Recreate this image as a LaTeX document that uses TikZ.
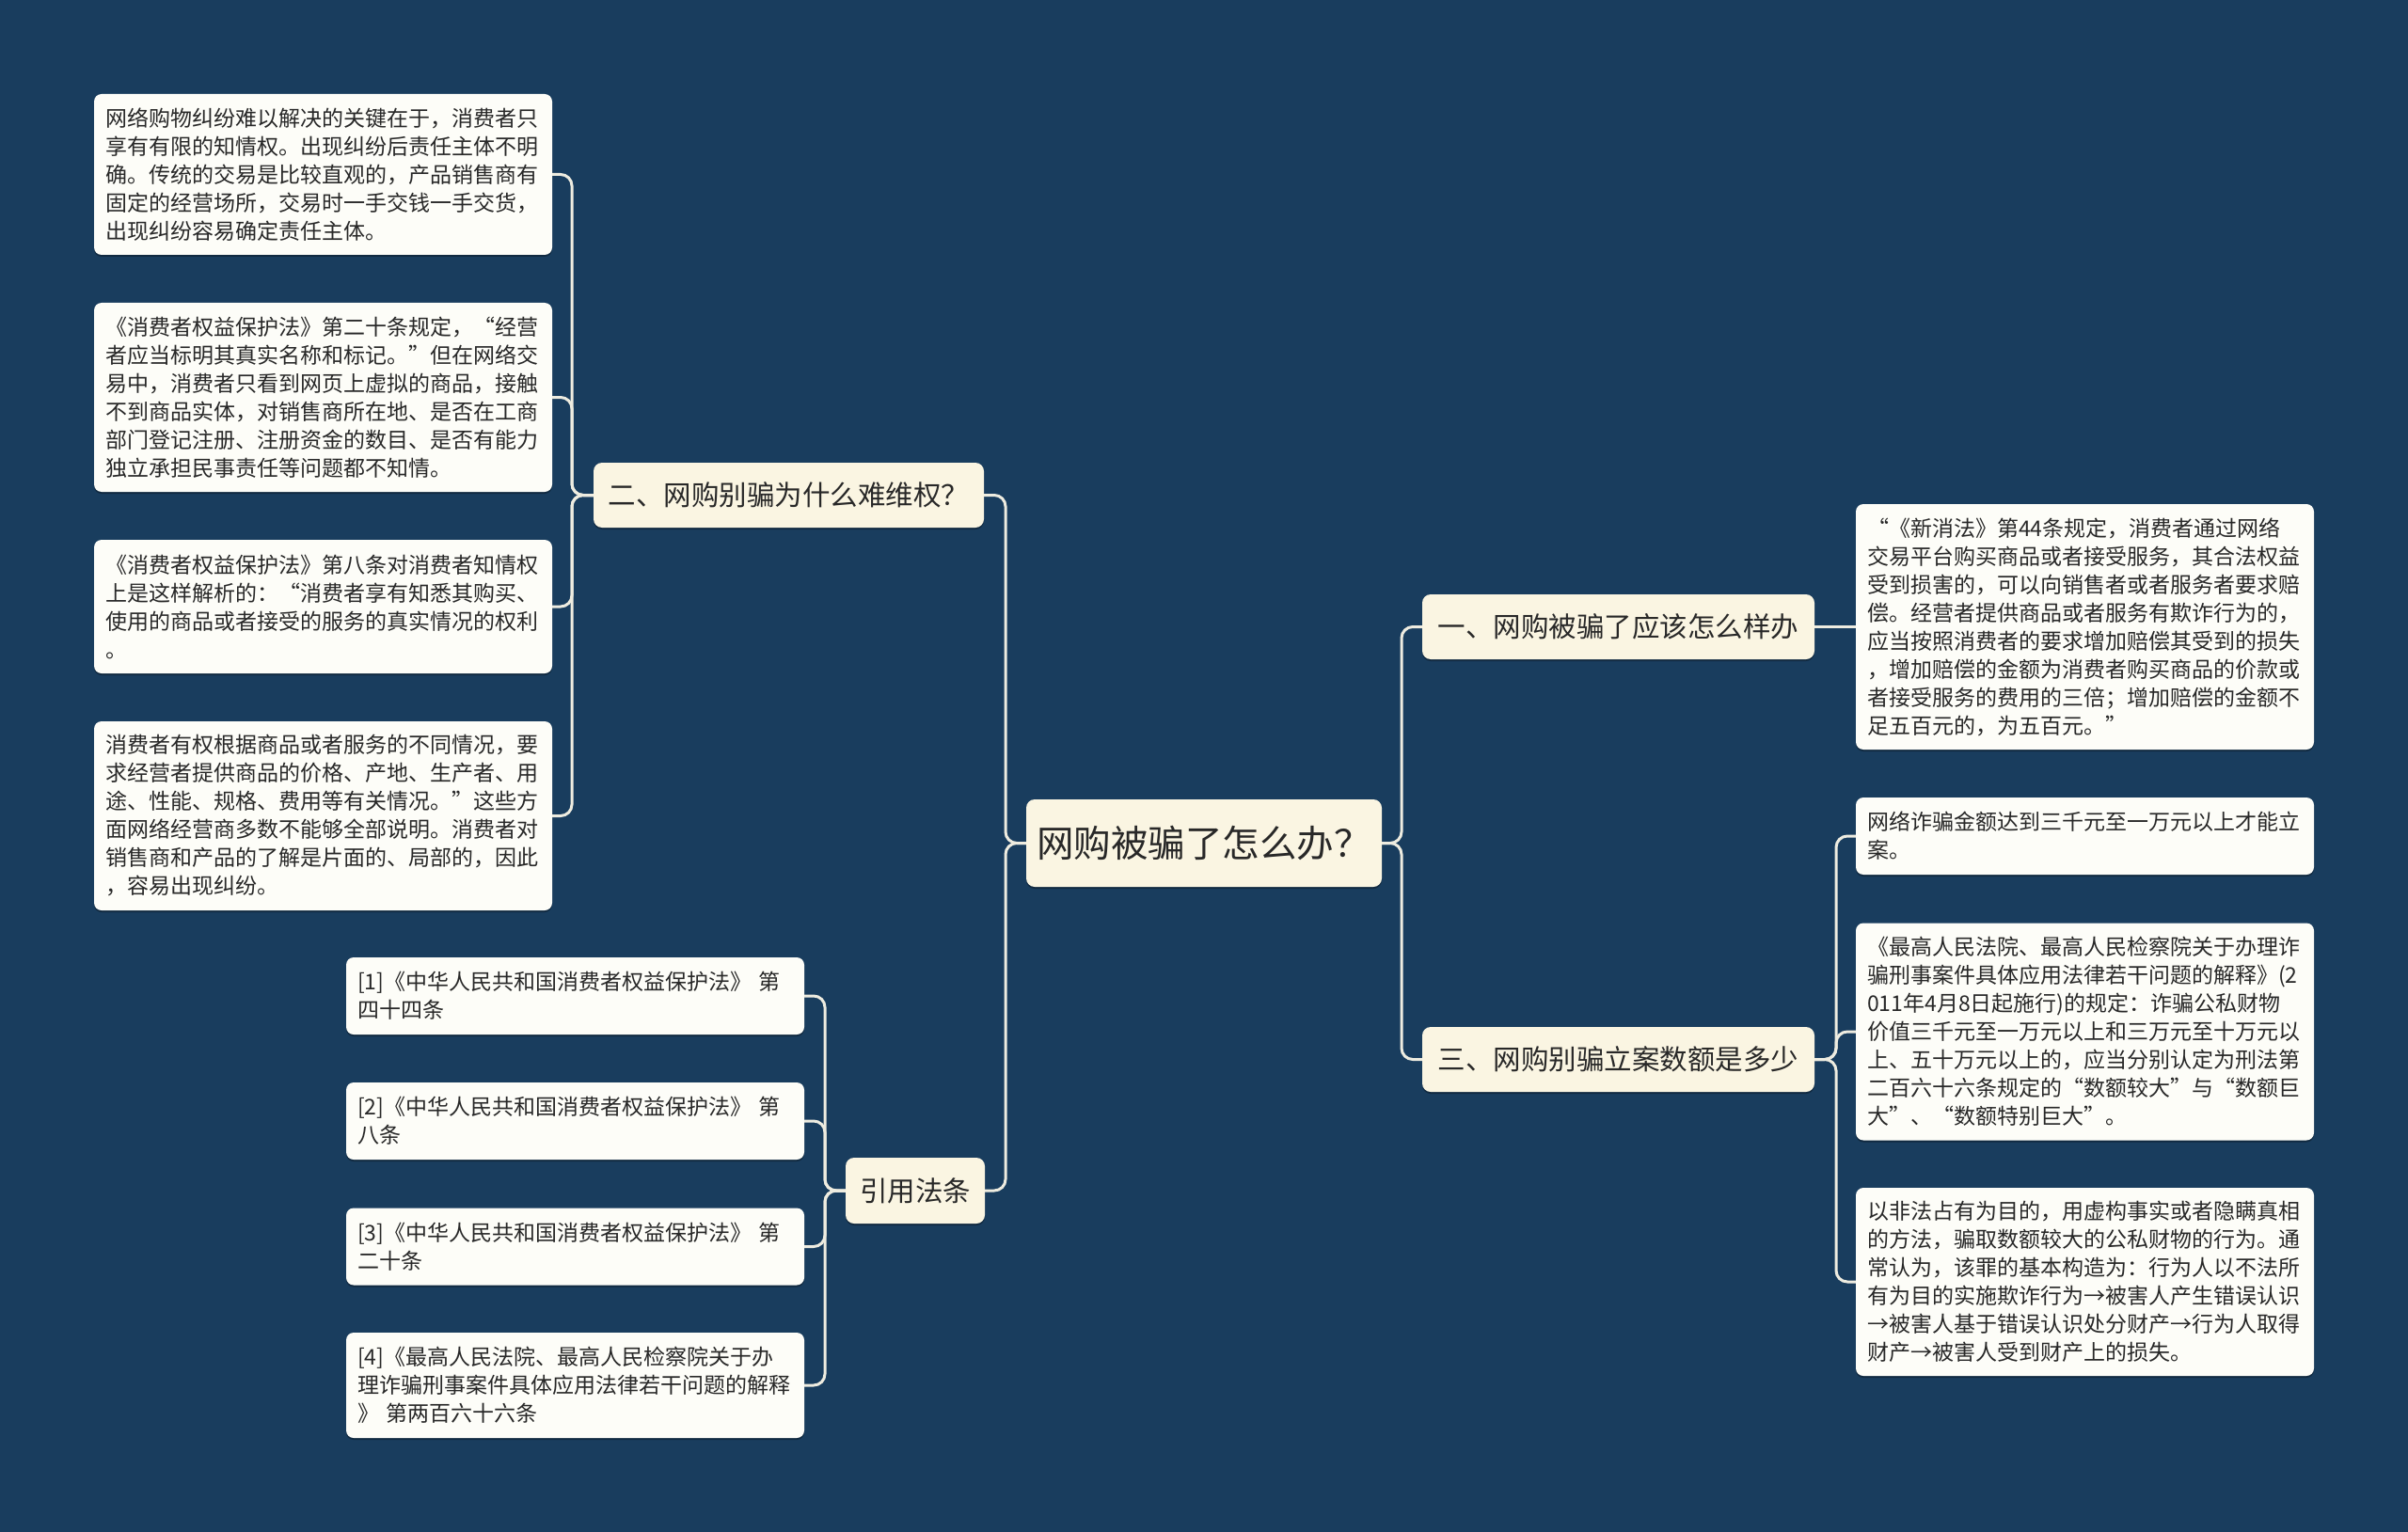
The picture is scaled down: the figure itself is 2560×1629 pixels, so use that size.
\documentclass[tikz,border=0pt]{standalone}
\usepackage{fontspec}
\setmainfont{Noto Sans CJK SC}
\usetikzlibrary{shadows}
\definecolor{bgc}{RGB}{25,61,94}
\definecolor{creamc}{RGB}{250,245,226}
\definecolor{leafc}{RGB}{253,253,248}
\definecolor{linec}{RGB}{238,236,224}
\definecolor{txtc}{RGB}{40,40,40}
\tikzset{
  conn/.style={draw=linec, line width=3pt, rounded corners=12pt},
  softshadow/.style={drop shadow={shadow xshift=0pt, shadow yshift=-2pt, opacity=0.3, fill=black}},
  rootnode/.style={softshadow, fill=creamc, rounded corners=9pt, text=txtc, font=\fontsize{39.5}{46}\selectfont, minimum width=378pt, minimum height=93pt, inner sep=0pt},
  branchnode/.style={softshadow, fill=creamc, rounded corners=9pt, text=txtc, font=\fontsize{29.5}{36}\selectfont, minimum height=69pt, inner sep=0pt},
  leafnode/.style={softshadow, fill=leafc, rounded corners=8pt, text=txtc, font=\fontsize{23}{30}\selectfont, text width=463pt, align=left, inner xsep=12pt, inner ysep=0pt}
}
\begin{document}
\begin{tikzpicture}[x=1pt, y=-1pt]
\fill[bgc] (0,0) rectangle (2560,1629);
\useasboundingbox (0,0) rectangle (2560,1629);

% trunk coordinates
\coordinate (lt) at (1069,0);
\coordinate (rt) at (1490,0);
\coordinate (t2) at (608,0);
\coordinate (t3) at (1952,0);
\coordinate (t4) at (877,0);

% root and branches
\node[rootnode] (root) at (1280,896.5) {网购被骗了怎么办？};
\node[branchnode, minimum width=415pt] (b2) at (838.5,526.5) {二、网购别骗为什么难维权？};
\node[branchnode, minimum width=148pt, minimum height=70pt] (cite) at (973,1266) {引用法条};
\node[branchnode, minimum width=417pt] (b1) at (1720.5,666.5) {一、网购被骗了应该怎么样办};
\node[branchnode, minimum width=417pt] (b3) at (1720.5,1126.5) {三、网购别骗立案数额是多少};

% left leaves
\node[leafnode, minimum height=171pt] (l1) at (343.5,185.5) {网络购物纠纷难以解决的关键在于，消费者只\\享有有限的知情权。出现纠纷后责任主体不明\\确。传统的交易是比较直观的，产品销售商有\\固定的经营场所，交易时一手交钱一手交货，\\出现纠纷容易确定责任主体。};
\node[leafnode, minimum height=201pt] (l2) at (343.5,422.5) {《消费者权益保护法》第二十条规定，“经营\\者应当标明其真实名称和标记。”但在网络交\\易中，消费者只看到网页上虚拟的商品，接触\\不到商品实体，对销售商所在地、是否在工商\\部门登记注册、注册资金的数目、是否有能力\\独立承担民事责任等问题都不知情。};
\node[leafnode, minimum height=142pt] (l3) at (343.5,645) {《消费者权益保护法》第八条对消费者知情权\\上是这样解析的：“消费者享有知悉其购买、\\使用的商品或者接受的服务的真实情况的权利\\。};
\node[leafnode, minimum height=201pt] (l4) at (343.5,867.5) {消费者有权根据商品或者服务的不同情况，要\\求经营者提供商品的价格、产地、生产者、用\\途、性能、规格、费用等有关情况。”这些方\\面网络经营商多数不能够全部说明。消费者对\\销售商和产品的了解是片面的、局部的，因此\\，容易出现纠纷。};

% citations
\node[leafnode, minimum height=82pt] (c1) at (611.5,1059) {[1]《中华人民共和国消费者权益保护法》 第\\四十四条};
\node[leafnode, minimum height=82pt] (c2) at (611.5,1192) {[2]《中华人民共和国消费者权益保护法》 第\\八条};
\node[leafnode, minimum height=82pt] (c3) at (611.5,1325.5) {[3]《中华人民共和国消费者权益保护法》 第\\二十条};
\node[leafnode, minimum height=112pt] (c4) at (611.5,1473) {[4]《最高人民法院、最高人民检察院关于办\\理诈骗刑事案件具体应用法律若干问题的解释\\》 第两百六十六条};

% right leaves
\node[leafnode, minimum height=261pt] (r1) at (2216.5,666.5) {“《新消法》第44条规定，消费者通过网络\\交易平台购买商品或者接受服务，其合法权益\\受到损害的，可以向销售者或者服务者要求赔\\偿。经营者提供商品或者服务有欺诈行为的，\\应当按照消费者的要求增加赔偿其受到的损失\\，增加赔偿的金额为消费者购买商品的价款或\\者接受服务的费用的三倍；增加赔偿的金额不\\足五百元的，为五百元。”};
\node[leafnode, minimum height=82pt] (r2) at (2216.5,889) {网络诈骗金额达到三千元至一万元以上才能立\\案。};
\node[leafnode, minimum height=231pt] (r3) at (2216.5,1097) {《最高人民法院、最高人民检察院关于办理诈\\骗刑事案件具体应用法律若干问题的解释》(2\\011年4月8日起施行)的规定：诈骗公私财物\\价值三千元至一万元以上和三万元至十万元以\\上、五十万元以上的，应当分别认定为刑法第\\二百六十六条规定的“数额较大”与“数额巨\\大”、“数额特别巨大”。};
\node[leafnode, minimum height=200pt] (r4) at (2216.5,1363) {以非法占有为目的，用虚构事实或者隐瞒真相\\的方法，骗取数额较大的公私财物的行为。通\\常认为，该罪的基本构造为：行为人以不法所\\有为目的实施欺诈行为→被害人产生错误认识\\→被害人基于错误认识处分财产→行为人取得\\财产→被害人受到财产上的损失。};

% connectors: root
\draw[conn] (root.west) -- (root.west -| lt) |- (b2.east);
\draw[conn] (root.west) -- (root.west -| lt) |- (cite.east);
\draw[conn] (root.east) -- (root.east -| rt) |- (b1.west);
\draw[conn] (root.east) -- (root.east -| rt) |- (b3.west);

% branch 二
\foreach \leaf in {l1,l2,l3,l4}
  \draw[conn] (b2.west) -- (b2.west -| t2) |- (\leaf.east);

% citations
\foreach \leaf in {c1,c2,c3,c4}
  \draw[conn] (cite.west) -- (cite.west -| t4) |- (\leaf.east);

% branch 一
\draw[conn] (b1.east) -- (r1.west);

% branch 三
\foreach \leaf in {r2,r3,r4}
  \draw[conn] (b3.east) -- (b3.east -| t3) |- (\leaf.west);
\end{tikzpicture}
\end{document}
